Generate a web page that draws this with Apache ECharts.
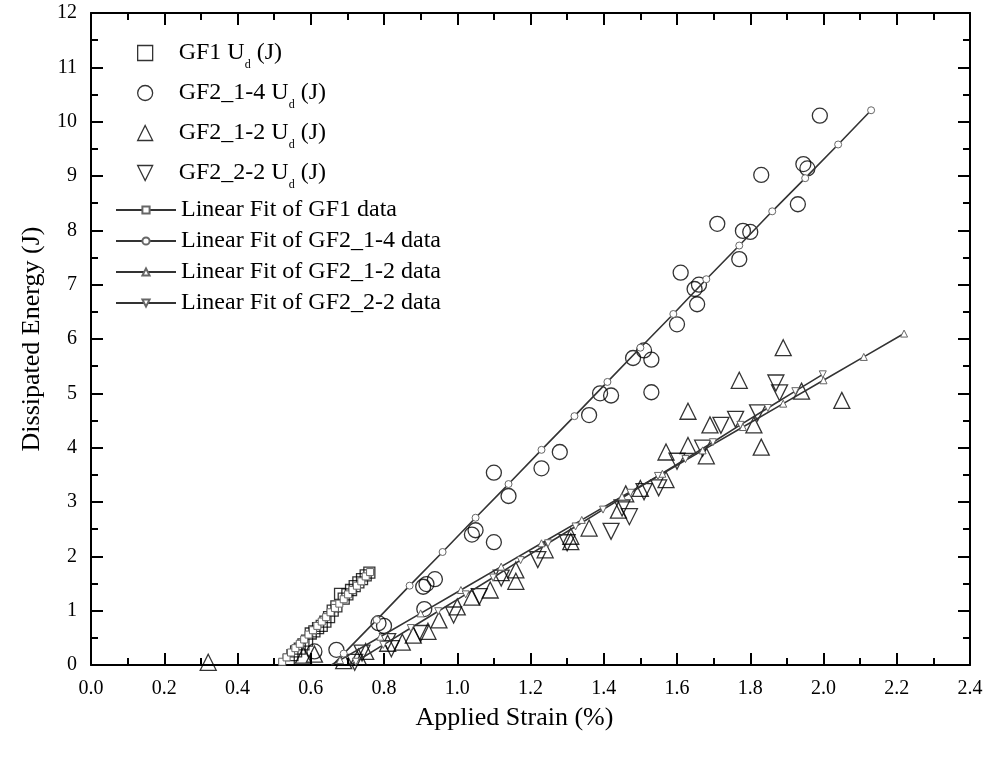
<!DOCTYPE html>
<html>
<head>
<meta charset="utf-8">
<script src="https://cdn.jsdelivr.net/npm/echarts@6/dist/echarts.min.js"></script>
<style>html,body{margin:0;padding:0;background:#fff}#c{width:990px;height:759px}</style>
</head>
<body>
<div id="c"></div>
<script>
// ---- data ----
const xTicks = [0.0,0.2,0.4,0.6,0.8,1.0,1.2,1.4,1.6,1.8,2.0,2.2,2.4];
const yTicks = [0,1,2,3,4,5,6,7,8,9,10,11,12];

const gf1Data = [[0.54,0.10],[0.55,0.18],[0.56,0.25],[0.57,0.30],[0.58,0.38],[0.59,0.45],[0.60,0.58],[0.61,0.62],[0.62,0.68],[0.63,0.72],[0.64,0.80],[0.65,0.88],[0.66,1.00],[0.67,1.08],[0.68,1.31],[0.69,1.22],[0.70,1.30],[0.71,1.38],[0.72,1.45],[0.73,1.52],[0.74,1.58],[0.75,1.65],[0.76,1.70]];

const gf214Data = [[0.61,0.25],[0.67,0.28],[0.785,0.77],[0.80,0.72],[0.91,1.03],[0.907,1.44],[0.916,1.49],[0.939,1.58],[1.04,2.40],[1.05,2.48],[1.10,2.26],[1.10,3.54],[1.14,3.11],[1.23,3.62],[1.28,3.92],[1.36,4.60],[1.39,5.00],[1.42,4.96],[1.48,5.65],[1.51,5.79],[1.53,5.62],[1.53,5.02],[1.60,6.27],[1.61,7.22],[1.648,6.92],[1.66,7.00],[1.655,6.64],[1.71,8.12],[1.77,7.47],[1.78,7.99],[1.80,7.97],[1.83,9.02],[1.93,8.48],[1.945,9.22],[1.956,9.14],[1.99,10.11]];

const gf212Data = [[0.32,0.05],[0.58,0.18],[0.61,0.20],[0.69,0.08],[0.73,0.15],[0.75,0.25],[0.81,0.40],[0.85,0.42],[0.88,0.55],[0.92,0.62],[0.95,0.83],[1.00,1.07],[1.04,1.25],[1.09,1.38],[1.12,1.70],[1.16,1.54],[1.16,1.75],[1.24,2.12],[1.31,2.27],[1.31,2.37],[1.36,2.52],[1.44,2.85],[1.46,3.15],[1.50,3.25],[1.57,3.41],[1.57,3.92],[1.63,4.04],[1.63,4.67],[1.68,3.85],[1.69,4.42],[1.77,5.24],[1.81,4.42],[1.83,4.01],[1.89,5.84],[1.94,5.04],[2.05,4.87]];

const gf222Data = [[0.72,0.05],[0.74,0.22],[0.81,0.43],[0.82,0.30],[0.90,0.58],[0.99,0.92],[1.06,1.26],[1.12,1.60],[1.22,1.94],[1.30,2.25],[1.42,2.46],[1.45,2.89],[1.47,2.73],[1.51,3.19],[1.55,3.26],[1.60,3.75],[1.67,3.99],[1.72,4.41],[1.76,4.52],[1.82,4.64],[1.87,5.19],[1.88,5.01]];

// linear fit curves: start point (no marker) and marker points
const fitGF1Start = [0.513,0];
const fitGF1 = [[0.522,0.06],[0.534,0.14],[0.546,0.23],[0.558,0.31],[0.570,0.39],[0.582,0.47],[0.594,0.56],[0.606,0.64],[0.618,0.72],[0.630,0.80],[0.642,0.88],[0.654,0.97],[0.666,1.05],[0.678,1.13],[0.690,1.21],[0.702,1.30],[0.714,1.38],[0.726,1.46],[0.738,1.54],[0.750,1.63],[0.762,1.71]];

const fitGF214Start = [0.66,0];
const fitGF214 = [[0.69,0.21],[0.78,0.83],[0.87,1.46],[0.96,2.08],[1.05,2.71],[1.14,3.33],[1.23,3.96],[1.32,4.58],[1.41,5.21],[1.50,5.84],[1.59,6.46],[1.68,7.10],[1.77,7.72],[1.86,8.35],[1.95,8.96],[2.04,9.58],[2.13,10.21]];

const fitGF212Start = [0.656,0];
const fitGF212 = [[0.68,0.09],[0.79,0.52],[0.90,0.95],[1.01,1.38],[1.12,1.81],[1.23,2.24],[1.34,2.67],[1.45,3.10],[1.56,3.52],[1.67,3.95],[1.78,4.38],[1.89,4.81],[2.00,5.24],[2.11,5.67],[2.22,6.10]];

const fitGF222Start = [0.709,0];
const fitGF222 = [[0.723,0.06],[0.798,0.37],[0.873,0.68],[0.948,0.99],[1.023,1.30],[1.098,1.61],[1.173,1.93],[1.248,2.24],[1.323,2.55],[1.398,2.86],[1.473,3.17],[1.548,3.48],[1.623,3.79],[1.698,4.10],[1.773,4.42],[1.848,4.73],[1.923,5.04],[1.998,5.35]];

const dataNames = ['GF1 U{s|d} (J)','GF2_1-4 U{s|d} (J)','GF2_1-2 U{s|d} (J)','GF2_2-2 U{s|d} (J)'];
const seriesIds = ['gf1','gf214','gf212','gf222'];
const fitNames = ['Linear Fit of GF1 data','Linear Fit of GF2_1-4 data','Linear Fit of GF2_1-2 data','Linear Fit of GF2_2-2 data'];

// ---- chart ----
const FONT = 'Liberation Serif';
const chart = echarts.init(document.getElementById('c'), null, {renderer:'canvas'});
const DOWN_TRI = 'path://M0,0L16,0L8,16Z';

function dataSeries(i, pts, symbol, size, rotate) {
  return {
    type:'scatter', name: seriesIds[i], data: pts, symbol: symbol, symbolSize: size,
    symbolRotate: rotate || 0, symbolKeepAspect: true,
    itemStyle:{color:'rgba(0,0,0,0)', borderColor:'#000', borderWidth:1.3},
    emphasis:{disabled:true}, z: 2
  };
}
function fitSeries(i, start, pts, symbol, rotate) {
  return {
    type:'line', name: fitNames[i],
    data: [{value:start, symbol:'none'}].concat(pts),
    symbol: symbol, symbolSize: 7, symbolRotate: rotate || 0, showAllSymbol:true,
    lineStyle:{color:'#333', width:1.6},
    itemStyle:{color:'#fff', borderColor:'#666', borderWidth:1},
    emphasis:{disabled:true}, z: 3, animation:false
  };
}

const axisCommon = {
  type:'value',
  axisLine:{show:true, onZero:false, lineStyle:{color:'#000', width:2}},
  axisTick:{show:true, inside:true, length:12, lineStyle:{color:'#000', width:2}},
  minorTick:{show:true, splitNumber:2, length:7, lineStyle:{color:'#000', width:2}},
  splitLine:{show:false}
};

const labelNames = {};
dataNames.forEach((n,i)=>{ labelNames[seriesIds[i]] = '{sp| }' + n; });

const option = {
  animation:false,
  backgroundColor:'#fff',
  grid:{left:91, right:20, top:13, bottom:94, containLabel:false},
  xAxis:[
    Object.assign({}, axisCommon, {
      min:xTicks[0], max:xTicks[xTicks.length-1], interval:0.2, position:'bottom',
      axisLabel:{margin:14, fontFamily:FONT, fontSize:20, color:'#000', formatter:v=>v.toFixed(1)},
      name:'Applied Strain (%)', nameLocation:'middle', nameGap:40,
      nameTextStyle:{fontFamily:FONT, fontSize:26, color:'#000', padding:[0,32,0,0]}
    }),
    Object.assign({}, axisCommon, {
      min:xTicks[0], max:xTicks[xTicks.length-1], interval:0.2, position:'top',
      axisLabel:{show:false}
    })
  ],
  yAxis:[
    Object.assign({}, axisCommon, {
      min:yTicks[0], max:yTicks[yTicks.length-1], interval:1, position:'left',
      axisLabel:{margin:14, fontFamily:FONT, fontSize:20, color:'#000'},
      name:'Dissipated Energy (J)', nameLocation:'middle', nameGap:46,
      nameTextStyle:{fontFamily:FONT, fontSize:26, color:'#000'}
    }),
    Object.assign({}, axisCommon, {
      min:yTicks[0], max:yTicks[yTicks.length-1], interval:1, position:'right',
      axisLabel:{show:false}
    })
  ],
  legend:[
    {
      data: [seriesIds[0], seriesIds[1], seriesIds[2], {name: seriesIds[3], icon: DOWN_TRI}],
      orient:'vertical', left:137, top:35, padding:0,
      itemWidth:15, itemHeight:15, itemGap:4,
      itemStyle:{borderWidth:1.3, borderColor:'#000', color:'rgba(0,0,0,0)'},
      selectedMode:false,
      formatter: n => labelNames[n],
      textStyle:{fontFamily:FONT, fontSize:24, color:'#000', lineHeight:36,
        rich:{
          sp:{width:21, fontSize:24, lineHeight:36},
          s:{fontFamily:FONT, fontSize:12, color:'#000', lineHeight:10, verticalAlign:'bottom'}
        }}
    },
    {
      data: fitNames, orient:'vertical', left:115, top:197, padding:0,
      itemWidth:60, itemHeight:9, itemGap:5,
      selectedMode:false,
      textStyle:{fontFamily:FONT, fontSize:24, color:'#000', lineHeight:26}
    }
  ],
  series:[
    dataSeries(0, gf1Data, 'rect', 11),
    dataSeries(1, gf214Data, 'circle', 15),
    dataSeries(2, gf212Data, 'triangle', 16),
    dataSeries(3, gf222Data, 'triangle', 16, 180),
    fitSeries(0, fitGF1Start, fitGF1, 'rect'),
    fitSeries(1, fitGF214Start, fitGF214, 'circle'),
    fitSeries(2, fitGF212Start, fitGF212, 'triangle'),
    fitSeries(3, fitGF222Start, fitGF222, 'triangle', 180)
  ]
};
chart.setOption(option);
</script>
</body>
</html>
